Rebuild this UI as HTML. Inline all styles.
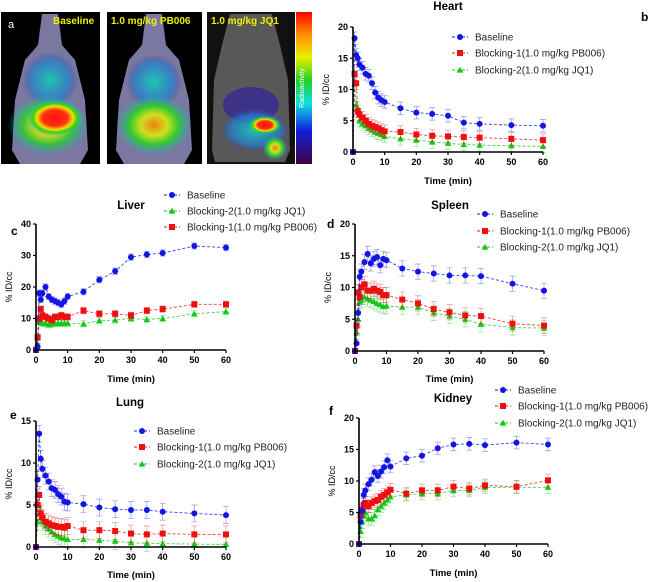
<!DOCTYPE html>
<html><head><meta charset="utf-8"><style>
body{margin:0;background:#fff;width:652px;height:582px;overflow:hidden;font-family:"Liberation Sans",Arial,sans-serif}
svg{position:absolute;left:0;top:0}
</style></head><body>
<svg id="fig" width="652" height="582" viewBox="0 0 652 582">
<defs>
<radialGradient id="hot1" cx="50%" cy="50%" r="50%"><stop offset="0" stop-color="#ff1010"/><stop offset="0.45" stop-color="#ff3010"/><stop offset="0.65" stop-color="#f0e000"/><stop offset="0.8" stop-color="#30d020"/><stop offset="1" stop-color="#30c0c0" stop-opacity="0"/></radialGradient>
<radialGradient id="hot2" cx="50%" cy="50%" r="50%"><stop offset="0" stop-color="#f08010"/><stop offset="0.35" stop-color="#d0e020"/><stop offset="0.65" stop-color="#30c830"/><stop offset="1" stop-color="#20b0c0" stop-opacity="0"/></radialGradient>
<radialGradient id="cyan" cx="50%" cy="50%" r="50%"><stop offset="0" stop-color="#20c8b0"/><stop offset="0.7" stop-color="#2080d0" stop-opacity="0.7"/><stop offset="1" stop-color="#4040a0" stop-opacity="0"/></radialGradient>
<linearGradient id="cbar" x1="0" y1="0" x2="0" y2="1"><stop offset="0" stop-color="#ff0000"/><stop offset="0.15" stop-color="#ff9000"/><stop offset="0.3" stop-color="#e8f000"/><stop offset="0.45" stop-color="#20d020"/><stop offset="0.6" stop-color="#10e0e0"/><stop offset="0.78" stop-color="#1020e0"/><stop offset="1" stop-color="#400040"/></linearGradient>
</defs>
<g id="panel-a">
  <g>
    <rect x="1" y="12" width="99" height="152" fill="#000"/>
    <path d="M42,14 L58,14 L62,45 L75,60 L85,100 L88,150 L80,164 L20,164 L12,150 L15,100 L25,60 L38,45 Z" fill="#7a78a0"/>
    <ellipse cx="50" cy="80" rx="28" ry="28" fill="url(#cyan)"/>
    <ellipse cx="48" cy="125" rx="40" ry="30" fill="url(#hot2)" opacity="0.9"/>
    <ellipse cx="55" cy="118" rx="28" ry="18" fill="url(#hot1)"/>
  </g>
  <g>
    <rect x="107" y="12" width="95" height="152" fill="#000"/>
    <path d="M146,14 L162,14 L166,45 L179,60 L189,100 L192,150 L184,164 L124,164 L116,150 L119,100 L129,60 L142,45 Z" fill="#7a78a0"/>
    <ellipse cx="154" cy="82" rx="28" ry="28" fill="url(#cyan)"/>
    <ellipse cx="154" cy="125" rx="38" ry="30" fill="url(#hot2)"/>
  </g>
  <g>
    <rect x="207" y="12" width="88" height="152" fill="#111"/>
    <path d="M230,14 L272,14 L280,45 L288,80 L290,150 L285,162 L215,162 L212,150 L214,80 L222,45 Z" fill="#585858"/>
    <ellipse cx="251" cy="105" rx="28" ry="18" fill="#3a2a90" opacity="0.85"/>
    <ellipse cx="255" cy="130" rx="36" ry="22" fill="url(#cyan)"/>
    <ellipse cx="265" cy="125" rx="16" ry="9" fill="url(#hot1)"/>
    <ellipse cx="275" cy="148" rx="12" ry="12" fill="url(#hot2)"/>
  </g>
  <rect x="296" y="12" width="16" height="152" fill="url(#cbar)"/>
  <text x="304" y="88" transform="rotate(-90 304 88)" text-anchor="middle" font-size="7" fill="#fff">Radioactivity</text>
  <text x="8" y="28" font-size="11" fill="#fff">a</text>
  <text x="53" y="24" font-size="10" font-weight="bold" fill="#f0f000">Baseline</text>
  <text x="111" y="24" font-size="10" font-weight="bold" fill="#f0f000">1.0 mg/kg PB006</text>
  <text x="211" y="24" font-size="10" font-weight="bold" fill="#f0f000">1.0 mg/kg JQ1</text>
</g>
</svg>
<script>
const times=[0,0.5,1,1.5,2,3,4,5,6,7,8,9,10,15,20,25,30,35,40,50,60];
const heartBase=[0,18.2,15.5,15,14,13.5,12.5,12.2,11,9.5,8.7,8.3,8,7,6.3,6.1,5.8,4.7,4.5,4.3,4.2];
const heartB1=[0,12.5,11,6.5,6,5.5,5,4.5,4.2,4,3.8,3.5,3.3,3.2,2.8,2.6,2.5,2.4,2.3,2.1,1.9];
const heartB2=[0,11,7.5,7,5,4.5,4.2,3.8,3.5,3.2,3,2.8,2.5,2.1,1.9,1.6,1.4,1.2,1.1,1.0,0.9];
const liverBase=[0,1,18,16,18,20,17,16,15.5,15,14.5,15.5,17,18.5,22.3,25,29.5,30.3,30.8,33,32.5];
const liverB1=[0,4,10,13,11,10.5,10,9.5,10.5,10.5,11,10.5,10.5,12.5,11.5,11.5,11,12.5,13,14.5,14.5];
const liverB2=[0,2,9,9.5,8.5,8.5,8,8.2,8.5,8.5,8.5,8.5,8.5,8.3,9.3,9.5,10,9.7,10,11.5,12.2];
const spleenBase=[0,1.2,6,11.7,12.5,14,15.3,13.8,14.5,14.8,13.5,14.5,14.3,13,12.5,12.2,11.9,11.9,11.8,10.6,9.5];
const spleenB1=[0,4,9.2,8.5,10,10.5,9.5,9.5,9.8,9.5,9.3,8.8,8.8,8.1,7.5,6.6,6.1,5.6,5.5,4.3,4];
const spleenB2=[0,3,5,7.8,8,8.5,8.2,8,7.8,7.5,7.3,7,7.1,6.9,6.9,6,5.5,5,4.2,3.7,3.6];
const lungBase=[0,8,13.5,10.5,9.3,8.5,7.8,7,6.8,6.3,6,5.4,5.3,5.1,4.7,4.5,4.4,4.4,4.2,4,3.8];
const lungB1=[0,5,6.2,4,3.5,3,2.8,2.6,2.5,2.4,2.4,2.3,2.5,2,2,1.9,1.6,1.5,1.6,1.5,1.5];
const lungB2=[0,3,5,3.5,3,2.5,2.2,1.8,1.5,1.3,1.1,1,0.9,0.9,0.8,0.7,0.5,0.45,0.4,0.35,0.3];
const kidneyBase=[0,3.5,5.2,7.8,8.5,9.5,10.2,11.4,10.8,11.5,12.2,13.3,12.3,13.6,14,15.2,15.8,15.9,15.7,16.1,15.8];
const kidneyB1=[0,4.5,5.5,6.2,6.5,6,6.5,6.8,7,7.5,7.8,8.2,8.6,8,8.5,8.5,9.1,8.8,9.3,9.1,10.1];
const kidneyB2=[0,2,3.5,4.5,5,4,4,4.5,5.5,6,6.5,7,7.5,7.8,8,8,8.5,8.5,9,9,9];
const xTicks=[0,10,20,30,40,50,60];
const legBase="Baseline", legB1="Blocking-1(1.0 mg/kg PB006)", legB2="Blocking-2(1.0 mg/kg JQ1)";
const NS="http://www.w3.org/2000/svg";
const fig=document.getElementById('fig');
const COL={base:'#1414e6',b1:'#ee1010',b2:'#14c814'};
function mk(tag,attrs,parent,txt){const e=document.createElementNS(NS,tag);for(const k in attrs)e.setAttribute(k,attrs[k]);if(txt!==undefined)e.textContent=txt;parent.appendChild(e);return e;}
function marker(g,kind,x,y,s){
  let m;
  if(kind==='base') m=mk('circle',{cx:x,cy:y,r:3*s,fill:COL.base},g);
  else if(kind==='b1') m=mk('rect',{x:x-3*s,y:y-3*s,width:6*s,height:6*s,fill:COL.b1},g);
  else m=mk('polygon',{points:`${x},${y-3.3*s} ${x-3.3*s},${y+2.6*s} ${x+3.3*s},${y+2.6*s}`,fill:COL.b2},g);
  return m;
}
function chart(o){
  const g=mk('g',{},fig);
  
  
  const sx=v=>o.x0+(o.x1-o.x0)*v/60, sy=v=>o.y0-(o.y0-o.y1)*v/o.ymax;
  o.series.forEach(s=>{
    const sg=mk('g',{},g);
    
    
    const pts=times.map((t,i)=>sx(t).toFixed(1)+','+sy(s.vals[i]).toFixed(1)).join(' ');
    mk('polyline',{points:pts,fill:'none',stroke:COL[s.kind],'stroke-width':0.9,'stroke-dasharray':'3,2',opacity:0.8},sg);
    times.forEach((t,i)=>{
      const X=sx(t),v=s.vals[i],e=v===0?0:o.err;
      if(e>0){
        const eb=mk('path',{d:`M${X},${sy(v-e)}V${sy(v+e)}M${X-3},${sy(v+e)}h6M${X-3},${sy(v-e)}h6`,stroke:COL[s.kind],'stroke-width':0.7,opacity:0.45,fill:'none'},sg);
        
        
      }
      const m=marker(sg,s.kind,X,sy(v),1);
      
      
    });
  });
  const ax=mk('path',{d:`M${o.x0},${o.y1}V${o.y0}H${o.x1}`,stroke:'#000','stroke-width':1.6,fill:'none'},g);
  
  
  o.yTicks.forEach(v=>{
    mk('line',{x1:o.x0-3,x2:o.x0,y1:sy(v),y2:sy(v),stroke:'#000','stroke-width':1.2},g);
    const t=mk('text',{x:o.x0-5,y:sy(v)+3,'font-size':9,'font-weight':'bold','text-anchor':'end'},g,String(v));
    
    
  });
  xTicks.forEach(v=>{
    mk('line',{x1:sx(v),x2:sx(v),y1:o.y0,y2:o.y0+3,stroke:'#000','stroke-width':1.2},g);
    const t=mk('text',{x:sx(v),y:o.y0+13,'font-size':9,'font-weight':'bold','text-anchor':'middle'},g,String(v));
    
    
  });
  const xl=mk('text',{x:(o.x0+o.x1)/2,y:o.timeY,'font-size':9.5,'font-weight':'bold','text-anchor':'middle'},g,'Time (min)');
  
  
  const yc=(o.y0+o.y1)/2, yx=o.x0-24;
  const yl=mk('text',{x:yx,y:yc,'font-size':9,'text-anchor':'middle',transform:`rotate(-90 ${yx} ${yc})`},g,'% ID/cc');
  
  
  const tt=mk('text',{x:o.titleX,y:o.titleY,'font-size':11.5,'font-weight':'bold','text-anchor':'middle'},g,o.title);
  
  
  const pl=mk('text',{x:o.lx,y:o.ly,'font-size':12,'font-weight':'bold'},g,o.letter);
  
  
  o.legend.forEach((s,i)=>{
    const lg=mk('g',{},g);
    
    
    const y=o.legY[i];
    mk('line',{x1:o.legX-8,x2:o.legX+8,y1:y,y2:y,stroke:COL[s.kind],'stroke-width':0.9,'stroke-dasharray':'3,2'},lg);
    marker(lg,s.kind,o.legX,y,1);
    mk('text',{x:o.legX+15,y:y+3.5,'font-size':10,fill:'#222'},lg,s.label);
  });
}
const L=[{kind:'base',label:legBase},{kind:'b1',label:legB1},{kind:'b2',label:legB2}];
chart({name:'heart',title:'Heart',letter:'b',x0:353,x1:543,y0:152,y1:27,ymax:20,yTicks:[0,5,10,15,20],err:1,
  series:[{kind:'b2',vals:heartB2},{kind:'b1',vals:heartB1},{kind:'base',vals:heartBase}],
  titleX:448,titleY:10,timeY:184,lx:641,ly:21,legend:L,legX:460,legY:[37,53,70]});
chart({name:'liver',title:'Liver',letter:'c',x0:36,x1:226,y0:350,y1:224,ymax:40,yTicks:[0,10,20,30,40],err:1,
  series:[{kind:'b2',vals:liverB2},{kind:'b1',vals:liverB1},{kind:'base',vals:liverBase}],
  titleX:131,titleY:209,timeY:382,lx:11,ly:235,legend:[L[0],L[2],L[1]],legX:172,legY:[195,211,227]});
chart({name:'spleen',title:'Spleen',letter:'d',x0:355,x1:544,y0:351,y1:224,ymax:20,yTicks:[0,5,10,15,20],err:1.2,
  series:[{kind:'b2',vals:spleenB2},{kind:'b1',vals:spleenB1},{kind:'base',vals:spleenBase}],
  titleX:450,titleY:209,timeY:382,lx:327,ly:228,legend:L,legX:485,legY:[214,231,247]});
chart({name:'lung',title:'Lung',letter:'e',x0:36,x1:226,y0:547,y1:421,ymax:15,yTicks:[0,5,10,15],err:1,
  series:[{kind:'b2',vals:lungB2},{kind:'b1',vals:lungB1},{kind:'base',vals:lungBase}],
  titleX:130,titleY:406,timeY:578,lx:10,ly:419,legend:L,legX:142,legY:[431,447,464]});
chart({name:'kidney',title:'Kidney',letter:'f',x0:359,x1:548,y0:544,y1:418,ymax:20,yTicks:[0,5,10,15,20],err:1,
  series:[{kind:'b2',vals:kidneyB2},{kind:'b1',vals:kidneyB1},{kind:'base',vals:kidneyBase}],
  titleX:453,titleY:402,timeY:576,lx:329,ly:415,legend:L,legX:503,legY:[390,406,423]});
</script>
</body></html>
